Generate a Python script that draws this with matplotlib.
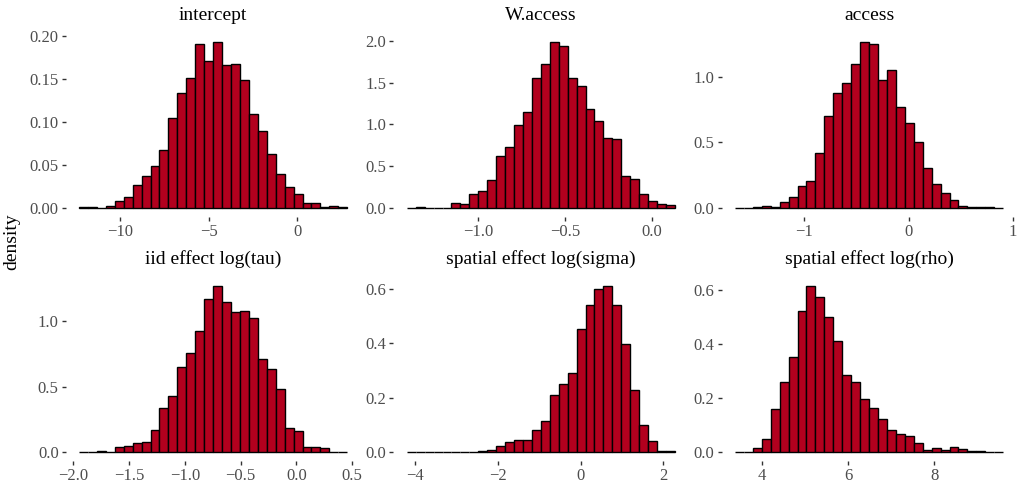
import numpy as np
import matplotlib
matplotlib.use("Agg")
import matplotlib.pyplot as plt

plt.rcParams['font.family'] = ['Liberation Serif', 'DejaVu Serif']

# panel titles
titles = ["intercept", "W.access", "access",
          "iid effect log(tau)", "spatial effect log(sigma)", "spatial effect log(rho)"]

# first bin left edge and bin width (30 bins each)
bin_start = [-12.32, -1.413, -1.662, -1.949, -4.20, 3.38]
bin_width = [0.505, 0.0516, 0.0856, 0.0802, 0.216, 0.207]

# density heights
intercept = [0.001, 0.002, 0.000, 0.003, 0.0085, 0.013, 0.027, 0.037, 0.049, 0.068,
             0.105, 0.133, 0.151, 0.190, 0.171, 0.193, 0.166, 0.167, 0.149, 0.109,
             0.090, 0.0625, 0.040, 0.025, 0.016, 0.006, 0.006, 0.001, 0.003, 0.001]
w_access = [0.008, 0.016, 0.0, 0.008, 0.0, 0.064, 0.048, 0.171, 0.203, 0.342,
            0.628, 0.736, 0.994, 1.145, 1.559, 1.722, 1.988, 1.940, 1.551, 1.455,
            1.185, 1.038, 0.843, 0.831, 0.386, 0.354, 0.171, 0.087, 0.048, 0.040]
access = [0.005, 0.0, 0.008, 0.02, 0.013, 0.048, 0.086, 0.172, 0.21, 0.42,
          0.699, 0.878, 0.952, 1.096, 1.266, 1.248, 0.975, 1.051, 0.770, 0.648,
          0.501, 0.306, 0.182, 0.119, 0.061, 0.02, 0.01, 0.013, 0.01, 0.003]
log_tau = [0.005, 0.0, 0.01, 0.0, 0.041, 0.048, 0.069, 0.081, 0.170, 0.338,
           0.429, 0.652, 0.754, 0.924, 1.170, 1.269, 1.145, 1.066, 1.076, 1.020,
           0.708, 0.632, 0.480, 0.188, 0.160, 0.041, 0.041, 0.030, 0.0, 0.005]
log_sigma = [0.001, 0.001, 0.0, 0.0, 0.001, 0.0, 0.002, 0.002, 0.006, 0.01,
             0.023, 0.039, 0.044, 0.044, 0.083, 0.115, 0.212, 0.251, 0.291, 0.453,
             0.540, 0.600, 0.612, 0.540, 0.397, 0.230, 0.100, 0.043, 0.004, 0.004]
log_rho = [0.001, 0.001, 0.017, 0.049, 0.160, 0.261, 0.353, 0.523, 0.615, 0.573,
           0.499, 0.412, 0.287, 0.258, 0.198, 0.165, 0.124, 0.081, 0.069, 0.059,
           0.033, 0.010, 0.017, 0.010, 0.020, 0.011, 0.005, 0.005, 0.002, 0.001]
heights = [intercept, w_access, access, log_tau, log_sigma, log_rho]

# tick values and labels
xticks = [[-10, -5, 0], [-1.0, -0.5, 0.0], [-1, 0, 1],
          [-2.0, -1.5, -1.0, -0.5, 0.0, 0.5], [-4, -2, 0, 2], [4, 6, 8]]
yticks = [[0, 0.05, 0.10, 0.15, 0.20], [0, 0.5, 1.0, 1.5, 2.0], [0, 0.5, 1.0],
          [0, 0.5, 1.0], [0, 0.2, 0.4, 0.6], [0, 0.2, 0.4, 0.6]]
xfmt = ["{:.0f}", "{:.1f}", "{:.0f}", "{:.1f}", "{:.0f}", "{:.0f}"]
yfmt = ["{:.2f}", "{:.1f}", "{:.1f}", "{:.1f}", "{:.1f}", "{:.1f}"]

fig = plt.figure(figsize=(10.19, 4.84), dpi=100)
lefts = [0.0644, 0.386, 0.7081]
bottoms = [0.5525, 0.0483]
w, h = 0.2895, 0.3785

for i in range(6):
    ax = fig.add_axes([lefts[i % 3], bottoms[i // 3], w, h])
    hts = np.array(heights[i])
    edges = bin_start[i] + bin_width[i] * np.arange(30)
    ax.bar(edges, hts, width=bin_width[i], align='edge',
           color='#B2001E', edgecolor='black', linewidth=1.0)
    x0 = bin_start[i]
    x1 = bin_start[i] + 30 * bin_width[i]
    pad = 0.05 * (x1 - x0)
    ax.set_xlim(x0 - pad, x1 + pad)
    ymax = hts.max()
    ax.set_ylim(-0.05 * ymax, 1.05 * ymax)
    ax.set_xticks(xticks[i])
    ax.set_xticklabels([xfmt[i].format(v).replace('-', '\u2212') for v in xticks[i]])
    ax.set_yticks(yticks[i])
    ax.set_yticklabels([yfmt[i].format(v) for v in yticks[i]])
    for s in ax.spines.values():
        s.set_visible(False)
    ax.tick_params(length=3, width=1, color='#333333', labelcolor='#4D4D4D',
                   labelsize=12, pad=2)
    ax.set_title(titles[i], fontsize=14, pad=10)

fig.text(0.012, 0.5, 'density', rotation=90, fontsize=14, va='center', ha='center')

fig.savefig('out.png', dpi=100)
